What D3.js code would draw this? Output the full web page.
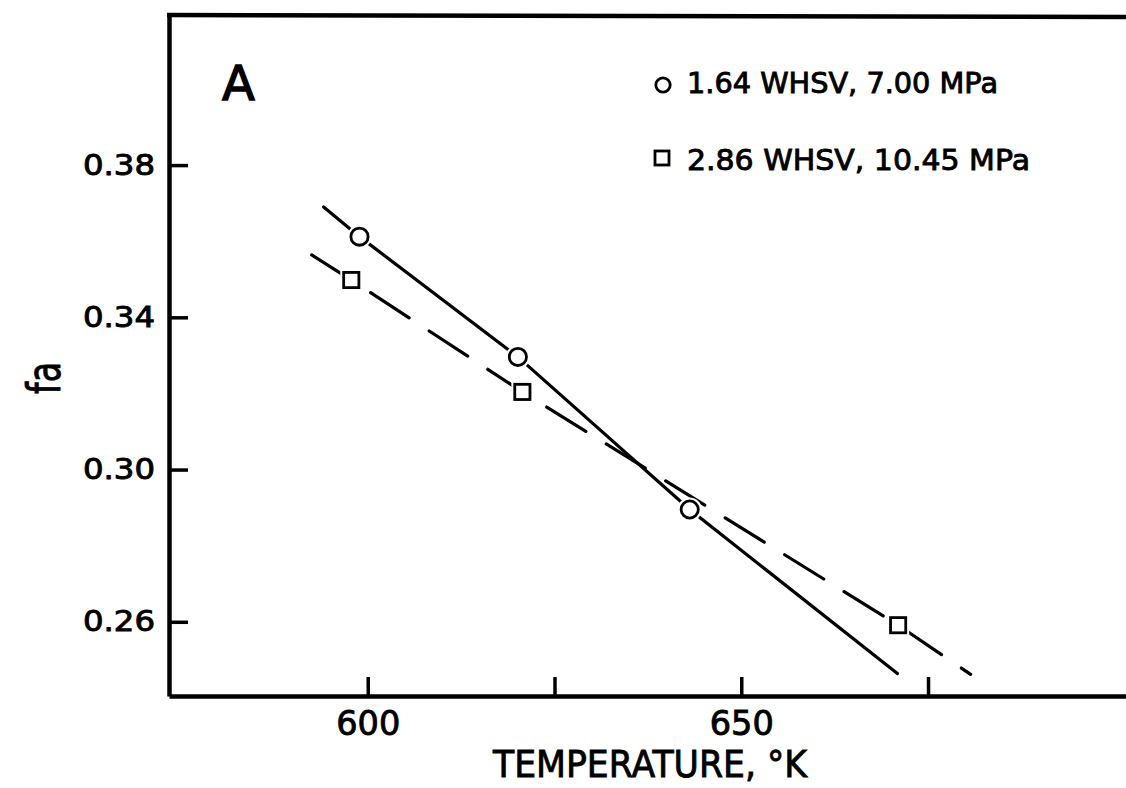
<!DOCTYPE html>
<html>
<head>
<meta charset="utf-8">
<script src="https://cdn.jsdelivr.net/npm/d3@7"></script>
<style>
  html, body { margin: 0; padding: 0; background: #fff; }
  svg { display: block; }
  text { font-family: "DejaVu Sans", "Liberation Sans", sans-serif; fill: #000; stroke: #000; stroke-width: 0.9px; }
</style>
</head>
<body>
<svg id="chart" width="1126" height="788"></svg>
<script>
// ---- data ----
const xTickValues = [600, 625, 650, 675];
const xTickLabels = ["600", "", "650", ""];
const yTickValues = [0.26, 0.30, 0.34, 0.38];
const yTickLabels = ["0.26", "0.30", "0.34", "0.38"];

// series A: circles, 1.64 WHSV, 7.00 MPa
const seriesATemp = [598.9, 620.1, 643.1];
const seriesAFa   = [0.3612, 0.3296, 0.2895];
// series B: squares, 2.86 WHSV, 10.45 MPa
const seriesBTemp = [597.8, 620.7, 671.0];
const seriesBFa   = [0.3498, 0.3204, 0.2591];

// hand-drawn lines
const lineATemp = [594.1, 598.9, 620.1, 643.1, 670.9];
const lineAFa   = [0.3690, 0.3612, 0.3296, 0.2895, 0.2464];
const lineBTemp = [592.5, 597.8, 620.7, 671.0, 680.7];
const lineBFa   = [0.3564, 0.3498, 0.3204, 0.2591, 0.2462];

const legendLabels = ["1.64 WHSV, 7.00 MPa", "2.86 WHSV, 10.45 MPa"];
const panelLabel = "A";
const xTitle = "TEMPERATURE, \u00B0K";
const yTitle = "fa";

// ---- layout ----
const svg = d3.select("#chart");
const L = 169, R = 1126, T = 15, B = 696;

const x = d3.scaleLinear().domain([573.4, 701.5]).range([L, R]);
const y = d3.scaleLinear().domain([0.2405, 0.4197]).range([B, 14]);

// frame top line
svg.append("line")
  .attr("x1", L - 2).attr("x2", R).attr("y1", T).attr("y2", T + 2)
  .attr("stroke", "#000").attr("stroke-width", 4.5);

// x axis
const xAxis = d3.axisBottom(x)
  .tickValues(xTickValues)
  .tickFormat((d, i) => xTickLabels[i])
  .tickSizeInner(-19)
  .tickSizeOuter(0)
  .tickPadding(15);
const gx = svg.append("g").attr("transform", `translate(0,${B})`).call(xAxis);
gx.select(".domain").attr("stroke-width", 4.5).attr("stroke", "#000");
gx.selectAll(".tick line").attr("stroke-width", 3.5).attr("stroke", "#000");
gx.selectAll(".tick text")
  .attr("font-size", 34)
  .attr("font-family", "DejaVu Sans")
  .attr("stroke", "#000").attr("stroke-width", 0.9)
  .attr("textLength", d => (xTickLabels[xTickValues.indexOf(d)] ? 64 : null))
  .attr("lengthAdjust", "spacingAndGlyphs");

// y axis
const yAxis = d3.axisLeft(y)
  .tickValues(yTickValues)
  .tickFormat((d, i) => yTickLabels[i])
  .tickSizeInner(-19)
  .tickSizeOuter(0)
  .tickPadding(14);
const gy = svg.append("g").attr("transform", `translate(${L},0)`).call(yAxis);
gy.select(".domain").attr("stroke-width", 4.5).attr("stroke", "#000");
gy.selectAll(".tick line").attr("stroke-width", 3.5).attr("stroke", "#000");
gy.selectAll(".tick text")
  .attr("font-size", 28)
  .attr("font-family", "DejaVu Sans")
  .attr("stroke", "#000").attr("stroke-width", 0.9)
  .attr("textLength", 72)
  .attr("lengthAdjust", "spacingAndGlyphs");

// axis titles
svg.append("text")
  .attr("x", 650).attr("y", 777)
  .attr("text-anchor", "middle")
  .attr("font-size", 38)
  .attr("textLength", 314)
  .attr("lengthAdjust", "spacingAndGlyphs")
  .text(xTitle);

svg.append("text")
  .attr("transform", "translate(60,378) rotate(-90)")
  .attr("text-anchor", "middle")
  .attr("font-size", 46)
  .attr("textLength", 32)
  .attr("lengthAdjust", "spacingAndGlyphs")
  .text(yTitle);

// panel label
svg.append("text")
  .attr("x", 222).attr("y", 100)
  .attr("font-size", 48)
  .style("stroke-width", "1.4px")
  .text(panelLabel);

// ---- lines ----
const lineGen = d3.line().x(d => x(d[0])).y(d => y(d[1]));
const lineA = lineATemp.map((t, i) => [t, lineAFa[i]]);
const lineB = lineBTemp.map((t, i) => [t, lineBFa[i]]);

svg.append("path").datum(lineB)
  .attr("d", lineGen)
  .attr("fill", "none").attr("stroke", "#000").attr("stroke-width", 3.2)
  .attr("stroke-linecap", "round")
  .attr("stroke-dasharray", "46 24");

svg.append("path").datum(lineA)
  .attr("d", lineGen)
  .attr("fill", "none").attr("stroke", "#000").attr("stroke-width", 3.2)
  .attr("stroke-linecap", "round");

// ---- markers ----
const ptsA = seriesATemp.map((t, i) => [t, seriesAFa[i]]);
const ptsB = seriesBTemp.map((t, i) => [t, seriesBFa[i]]);

// white halos so lines break at markers
svg.selectAll(".haloA").data(ptsA).enter().append("circle")
  .attr("cx", d => x(d[0])).attr("cy", d => y(d[1])).attr("r", 12)
  .attr("fill", "#fff");
svg.selectAll(".haloB").data(ptsB).enter().append("rect")
  .attr("x", d => x(d[0]) - 11).attr("y", d => y(d[1]) - 11)
  .attr("width", 22).attr("height", 22).attr("fill", "#fff");

svg.selectAll(".ptA").data(ptsA).enter().append("circle")
  .attr("cx", d => x(d[0])).attr("cy", d => y(d[1])).attr("r", 8.6)
  .attr("fill", "#fff").attr("stroke", "#000").attr("stroke-width", 2.8);
svg.selectAll(".ptB").data(ptsB).enter().append("rect")
  .attr("x", d => x(d[0]) - 7.6).attr("y", d => y(d[1]) - 7.6)
  .attr("width", 15.2).attr("height", 15.2)
  .attr("fill", "#fff").attr("stroke", "#000").attr("stroke-width", 2.8);

// ---- legend ----
const lg = svg.append("g");
lg.append("circle").attr("cx", 663).attr("cy", 85).attr("r", 7.2)
  .attr("fill", "#fff").attr("stroke", "#000").attr("stroke-width", 2.8);
lg.append("rect").attr("x", 655).attr("y", 151).attr("width", 14).attr("height", 14)
  .attr("fill", "#fff").attr("stroke", "#000").attr("stroke-width", 2.8);
lg.append("text").attr("x", 687).attr("y", 93)
  .attr("font-size", 28).attr("textLength", 311).attr("lengthAdjust", "spacingAndGlyphs")
  .text(legendLabels[0]);
lg.append("text").attr("x", 687).attr("y", 170)
  .attr("font-size", 29).attr("textLength", 343).attr("lengthAdjust", "spacingAndGlyphs")
  .text(legendLabels[1]);
</script>
</body>
</html>
